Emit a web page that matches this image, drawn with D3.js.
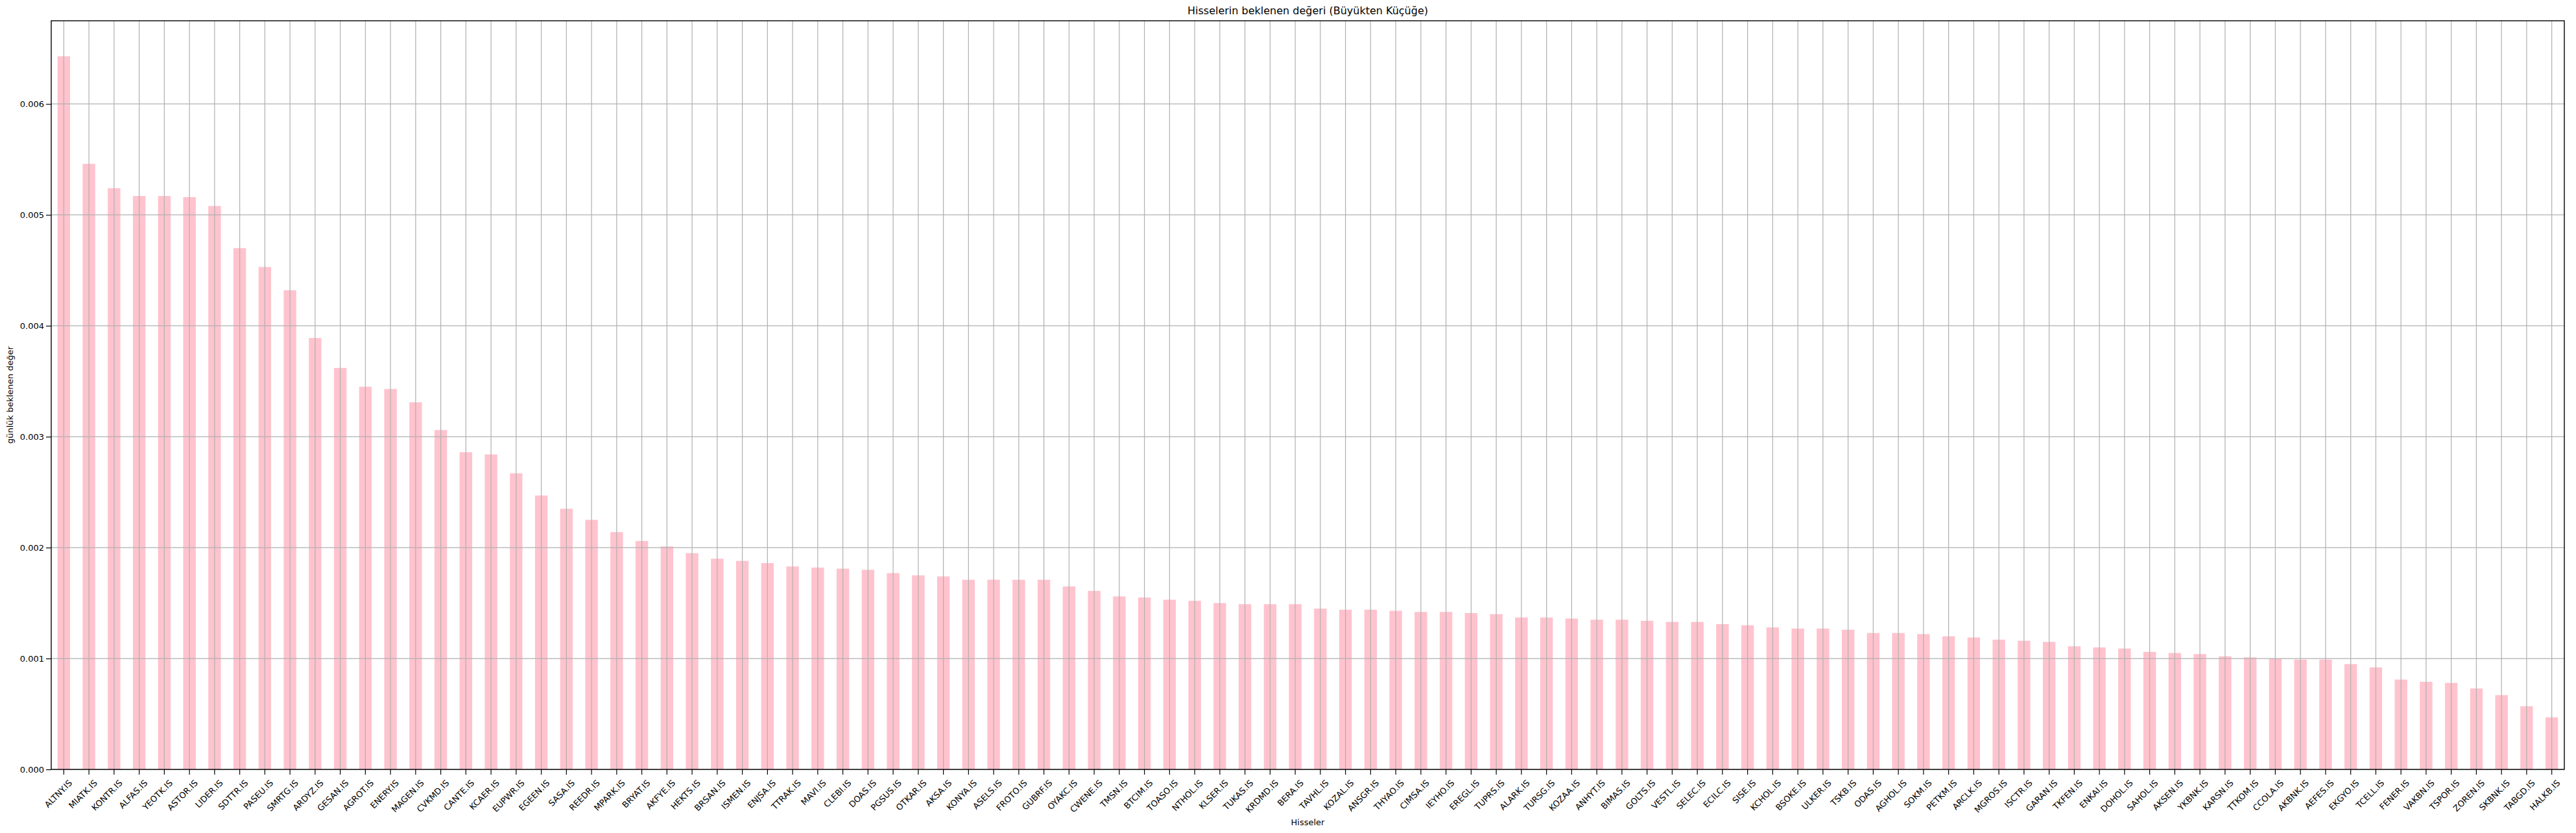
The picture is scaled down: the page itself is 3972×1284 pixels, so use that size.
<!DOCTYPE html>
<html>
<head>
<meta charset="utf-8">
<script src="https://cdn.jsdelivr.net/npm/d3@7"></script>
<style>
  body { margin: 0; background: #fff; }
  text { font-family: "DejaVu Sans", sans-serif; fill: #000; }
</style>
</head>
<body>
<svg id="chart" width="3972" height="1284"></svg>
<script>
const tickers = ["ALTNY","MIATK","KONTR","ALFAS","YEOTK","ASTOR","LIDER","SDTTR","PASEU","SMRTG",
  "ARDYZ","GESAN","AGROT","ENERY","MAGEN","CVKMD","CANTE","KCAER","EUPWR","EGEEN",
  "SASA","REEDR","MPARK","BRYAT","AKFYE","HEKTS","BRSAN","ISMEN","ENJSA","TTRAK",
  "MAVI","CLEBI","DOAS","PGSUS","OTKAR","AKSA","KONYA","ASELS","FROTO","GUBRF",
  "OYAKC","CWENE","TMSN","BTCIM","TOASO","NTHOL","KLSER","TUKAS","KRDMD","BERA",
  "TAVHL","KOZAL","ANSGR","THYAO","CIMSA","IEYHO","EREGL","TUPRS","ALARK","TURSG",
  "KOZAA","ANHYT","BIMAS","GOLTS","VESTL","SELEC","ECILC","SISE","KCHOL","BSOKE",
  "ULKER","TSKB","ODAS","AGHOL","SOKM","PETKM","ARCLK","MGROS","ISCTR","GARAN",
  "TKFEN","ENKAI","DOHOL","SAHOL","AKSEN","YKBNK","KARSN","TTKOM","CCOLA","AKBNK",
  "AEFES","EKGYO","TCELL","FENER","VAKBN","TSPOR","ZOREN","SKBNK","TABGD","HALKB"];

const expected = [0.00643,0.00546,0.00524,0.00517,0.00517,0.00516,0.00508,0.00470,0.00453,0.00432,
  0.00389,0.00362,0.00345,0.00343,0.00331,0.00306,0.00286,0.00284,0.00267,0.00247,
  0.00235,0.00225,0.00214,0.00206,0.00201,0.00195,0.00190,0.00188,0.00186,0.00183,
  0.00182,0.00181,0.00180,0.00177,0.00175,0.00174,0.00171,0.00171,0.00171,0.00171,
  0.00165,0.00161,0.00156,0.00155,0.00153,0.00152,0.00150,0.00149,0.00149,0.00149,
  0.00145,0.00144,0.00144,0.00143,0.00142,0.00142,0.00141,0.00140,0.00137,0.00137,
  0.00136,0.00135,0.00135,0.00134,0.00133,0.00133,0.00131,0.00130,0.00128,0.00127,
  0.00127,0.00126,0.00123,0.00123,0.00122,0.00120,0.00119,0.00117,0.00116,0.00115,
  0.00111,0.00110,0.00109,0.00106,0.00105,0.00104,0.00102,0.00101,0.00100,0.00099,
  0.00099,0.00095,0.00092,0.00081,0.00079,0.00078,0.00073,0.00067,0.00057,0.00047];

const yTicks = [0, 0.001, 0.002, 0.003, 0.004, 0.005, 0.006];

const margin = { left: 79, right: 18, top: 32, bottom: 98 };
const W = 3972, H = 1284;
const svg = d3.select("#chart");

const x = d3.scaleBand()
  .domain(tickers.map(t => t + ".IS"))
  .range([margin.left, W - margin.right])
  .paddingInner(0.5)
  .paddingOuter(0.25);
const y = d3.scaleLinear().domain([0, 0.00675]).range([H - margin.bottom, margin.top]);

// grid
const grid = svg.append("g").attr("stroke", "#b0b0b0").attr("stroke-width", 1.2);
grid.selectAll(".gx").data(x.domain()).join("line")
  .attr("x1", d => x(d) + x.bandwidth() / 2).attr("x2", d => x(d) + x.bandwidth() / 2)
  .attr("y1", margin.top).attr("y2", H - margin.bottom);
grid.selectAll(".gy").data(yTicks).join("line")
  .attr("x1", margin.left).attr("x2", W - margin.right)
  .attr("y1", d => y(d)).attr("y2", d => y(d));

// bars
svg.append("g").selectAll("rect").data(expected).join("rect")
  .attr("x", (d, i) => x(tickers[i] + ".IS"))
  .attr("width", x.bandwidth())
  .attr("y", d => y(d))
  .attr("height", d => y(0) - y(d))
  .attr("fill", "pink")
  .attr("fill-opacity", 0.95);

// redraw grid over bars (matplotlib draws grid on top here)
svg.node().appendChild(grid.node());

// axes
const xAxis = svg.append("g")
  .attr("transform", `translate(0,${H - margin.bottom})`)
  .call(d3.axisBottom(x).tickSize(8).tickSizeOuter(0));
xAxis.select(".domain").remove();
xAxis.selectAll("text")
  .attr("font-size", 13)
  .attr("text-anchor", "end")
  .attr("dy", 0)
  .attr("transform", function () {
    return "translate(6,14) rotate(-45)";
  });

const yAxis = svg.append("g")
  .attr("transform", `translate(${margin.left},0)`)
  .call(d3.axisLeft(y).tickValues(yTicks).tickFormat(d3.format(".3f")).tickSize(8).tickSizeOuter(0));
yAxis.select(".domain").remove();
yAxis.selectAll("text").attr("font-size", 13);

svg.selectAll(".tick line").attr("stroke", "#000").attr("stroke-width", 1.2);

// frame
svg.append("rect")
  .attr("x", margin.left).attr("y", margin.top)
  .attr("width", W - margin.left - margin.right)
  .attr("height", H - margin.top - margin.bottom)
  .attr("fill", "none").attr("stroke", "#000").attr("stroke-width", 1.4);

svg.append("text")
  .attr("x", (margin.left + W - margin.right) / 2).attr("y", 22)
  .attr("text-anchor", "middle").attr("font-size", 16)
  .text("Hisselerin beklenen değeri  (Büyükten Küçüğe)");

svg.append("text")
  .attr("x", (margin.left + W - margin.right) / 2).attr("y", 1272)
  .attr("text-anchor", "middle").attr("font-size", 13)
  .text("Hisseler");

svg.append("text")
  .attr("transform", `translate(20,${(margin.top + H - margin.bottom) / 2}) rotate(-90)`)
  .attr("text-anchor", "middle").attr("font-size", 13)
  .text("günlük beklenen değer");
</script>
</body>
</html>
